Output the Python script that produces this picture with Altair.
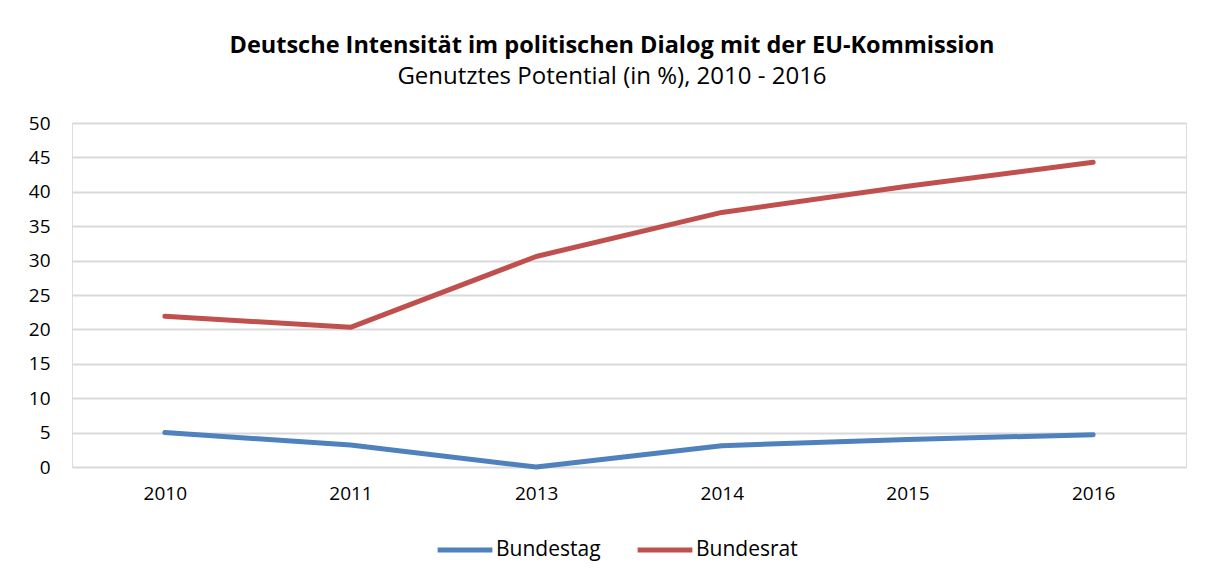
import altair as alt
import pandas as pd

years = ["2010", "2011", "2013", "2014", "2015", "2016"]
bundestag = [5.0, 3.2, 0.0, 3.1, 4.0, 4.7]
bundesrat = [21.9, 20.3, 30.6, 37.0, 40.8, 44.3]
series = ["Bundestag", "Bundesrat"]
colors = ["#4F81BD", "#C0504D"]

rows = []
for name, vals in zip(series, [bundestag, bundesrat]):
    for y, v in zip(years, vals):
        rows.append({"Jahr": y, "Wert": v, "Serie": name})
df = pd.DataFrame(rows)

FONT = "Open Sans"

chart = (
    alt.Chart(df)
    .mark_line(strokeWidth=5, strokeCap="round", strokeJoin="round")
    .encode(
        x=alt.X("Jahr:N", sort=years, title=None,
                scale=alt.Scale(paddingOuter=0.5, paddingInner=0),
                axis=alt.Axis(labelAngle=0, ticks=False, domain=False, grid=False,
                              labelFontSize=19, labelColor="#000000", labelFont=FONT,
                              labelPadding=17)),
        y=alt.Y("Wert:Q", title=None,
                scale=alt.Scale(domain=[0, 50], nice=False),
                axis=alt.Axis(values=list(range(0, 51, 5)), ticks=False, domain=False,
                              gridColor="#D9D9D9", gridWidth=2,
                              labelFontSize=19, labelColor="#000000", labelFont=FONT,
                              labelPadding=22)),
        color=alt.Color("Serie:N", sort=series,
                        scale=alt.Scale(domain=series, range=colors),
                        legend=alt.Legend(title=None, orient="none", direction="horizontal",
                                          legendX=363, legendY=397,
                                          symbolType="stroke", symbolSize=3000,
                                          symbolStrokeWidth=5, labelFontSize=21,
                                          labelFont=FONT, labelColor="#000000",
                                          columnPadding=26, labelOffset=1)),
    )
    .properties(
        width=1114,
        height=344,
        title=alt.TitleParams(
            text="Deutsche Intensität im politischen Dialog mit der EU-Kommission",
            subtitle="Genutztes Potential (in %), 2010 - 2016",
            font=FONT, fontSize=23.5, fontWeight="bold", color="#000000",
            subtitleFont=FONT, subtitleFontSize=24, subtitleColor="#000000",
            subtitlePadding=8, anchor="middle", dx=-17, offset=25,
        ),
        autosize=alt.AutoSizeParams(type="none"),
        padding={"left": 64, "top": 115, "right": 16, "bottom": 106},
    )
    .configure_view(stroke=None)
    .configure(background="white")
)

chart.save("out.html", embed_options={"renderer": "svg", "actions": False})
